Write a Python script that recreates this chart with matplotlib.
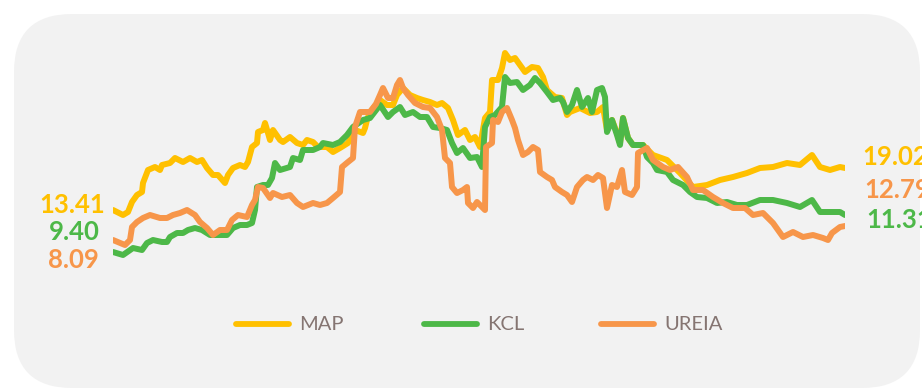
import matplotlib
matplotlib.use('Agg')
import matplotlib.pyplot as plt
from matplotlib.patches import FancyBboxPatch
from matplotlib.lines import Line2D

# dias corridos desde o inicio da serie, e nivel relativo de cada produto (indice)
map_dias = [0, 10, 15, 19, 24, 29, 30, 35, 42, 47,
            49, 57, 62, 70, 77, 84, 89, 94, 100, 105,
            112, 115, 120, 127, 132, 135, 139, 144, 145, 150,
            152, 155, 157, 160, 167, 170, 177, 184, 190, 194,
            200, 205, 214, 220, 227, 235, 242, 250, 252, 254,
            257, 267, 274, 280, 284, 290, 297, 304, 310, 317,
            324, 329, 335, 340, 345, 352, 357, 362, 367, 372,
            377, 379, 385, 389, 392, 397, 402, 407, 412, 419,
            425, 430, 434, 442, 449, 454, 457, 467, 477, 484,
            490, 494, 499, 504, 507, 510, 515, 520, 530, 540,
            554, 567, 580, 594, 607, 620, 634, 647, 660, 674,
            687, 699, 707, 717, 727, 732]
map_nivel = [90, 85, 88, 98, 105, 108, 117, 130, 133, 130,
             135, 137, 142, 138, 142, 138, 140, 132, 125, 125,
             117, 125, 132, 135, 133, 138, 153, 157, 168, 170,
             177, 167, 160, 170, 160, 158, 163, 157, 155, 160,
             158, 153, 153, 148, 152, 157, 170, 167, 172, 180,
             188, 200, 195, 195, 205, 212, 205, 202, 200, 198,
             195, 197, 192, 180, 165, 170, 160, 163, 153, 182,
             188, 220, 220, 232, 247, 240, 242, 235, 228, 233,
             232, 223, 210, 203, 202, 185, 188, 192, 187, 188,
             193, 170, 180, 167, 157, 182, 162, 155, 155, 145,
             140, 127, 113, 115, 120, 123, 127, 132, 133, 137,
             135, 145, 133, 130, 133, 132]

kcl_dias = [0, 10, 20, 29, 34, 40, 49, 54, 57, 64,
            70, 75, 82, 89, 97, 107, 114, 120, 127, 134,
            139, 142, 144, 150, 155, 159, 162, 167, 177, 180,
            187, 190, 200, 207, 210, 220, 227, 234, 240, 250,
            257, 267, 275, 280, 287, 292, 300, 307, 314, 320,
            327, 334, 339, 344, 350, 357, 364, 369, 372, 377,
            382, 389, 392, 397, 404, 410, 417, 422, 427, 434,
            440, 447, 450, 454, 459, 464, 469, 475, 479, 484,
            489, 492, 494, 499, 504, 507, 510, 515, 520, 530,
            534, 540, 544, 554, 560, 570, 577, 584, 594, 604,
            614, 624, 634, 647, 660, 674, 687, 699, 707, 717,
            727, 732]
kcl_nivel = [48, 45, 52, 50, 57, 60, 58, 58, 63, 67,
             67, 70, 72, 70, 65, 65, 65, 72, 75, 75,
             77, 90, 113, 115, 115, 122, 137, 130, 133, 142,
             140, 150, 150, 153, 157, 155, 158, 165, 173, 180,
             182, 195, 183, 188, 193, 185, 188, 183, 183, 173,
             172, 170, 157, 147, 152, 142, 143, 133, 173, 183,
             185, 193, 223, 217, 218, 210, 215, 222, 217, 208,
             200, 202, 198, 188, 195, 210, 193, 202, 188, 210,
             212, 203, 168, 180, 165, 155, 182, 162, 155, 155,
             143, 137, 130, 128, 120, 115, 108, 103, 102, 97,
             98, 95, 95, 100, 100, 97, 93, 100, 88, 88,
             88, 85]

ureia_dias = [0, 12, 17, 19, 24, 30, 37, 47, 54, 60,
              67, 74, 82, 87, 94, 100, 107, 114, 119, 125,
              134, 139, 142, 145, 150, 157, 160, 169, 177, 184,
              190, 200, 207, 214, 220, 227, 229, 235, 240, 242,
              247, 257, 263, 267, 270, 275, 280, 284, 287, 290,
              295, 302, 310, 317, 324, 329, 332, 337, 339, 344,
              350, 354, 355, 360, 364, 369, 372, 373, 379, 380,
              385, 389, 394, 399, 402, 405, 410, 415, 420, 425,
              427, 434, 439, 442, 449, 454, 459, 464, 470, 474,
              480, 485, 490, 494, 499, 504, 509, 512, 519, 524,
              525, 534, 540, 550, 557, 565, 574, 580, 590, 600,
              610, 620, 632, 640, 650, 660, 670, 680, 690, 700,
              710, 715, 719, 727, 732]
ureia_nivel = [60, 55, 60, 73, 78, 82, 85, 82, 82, 85,
               87, 90, 85, 78, 72, 65, 70, 70, 80, 85,
               83, 95, 100, 113, 112, 102, 107, 103, 105, 97,
               93, 97, 95, 97, 102, 108, 133, 138, 142, 173,
               188, 188, 196, 205, 212, 202, 202, 215, 220, 212,
               205, 197, 193, 192, 183, 170, 142, 137, 113, 107,
               110, 113, 97, 92, 98, 93, 90, 153, 157, 180,
               178, 188, 192, 180, 172, 160, 145, 148, 153, 150,
               128, 123, 120, 113, 108, 105, 98, 113, 120, 123,
               120, 125, 122, 92, 115, 113, 130, 108, 105, 113,
               147, 152, 140, 133, 130, 133, 123, 110, 110, 103,
               97, 92, 92, 85, 87, 77, 63, 68, 63, 65,
               62, 60, 67, 73, 74]

series = ['MAP', 'KCL', 'UREIA']
cores = {'MAP': '#FFC000', 'KCL': '#4DB848', 'UREIA': '#F7964A'}
valor_inicial = {'MAP': '13.41', 'KCL': '9.40', 'UREIA': '8.09'}
valor_final = {'MAP': '19.02', 'KCL': '11.31', 'UREIA': '12.79'}

W, H = 922, 390
fig = plt.figure(figsize=(W / 100, H / 100), dpi=100)

# fundo cinza com cantos arredondados, em coordenadas de pixel
bg = fig.add_axes([0, 0, 1, 1])
bg.set_xlim(0, W)
bg.set_ylim(0, H)
bg.axis('off')
bg.add_patch(FancyBboxPatch((14, 2), 906, 374, boxstyle='round,pad=0,rounding_size=58',
                            facecolor='#F2F2F2', edgecolor='none'))

ax = fig.add_axes([113 / W, (H - 280) / H, 732 / W, 240 / H])
ax.set_xlim(0, 732)
ax.set_ylim(20, 260)
ax.axis('off')

lw = 4.3
ax.plot(map_dias, map_nivel, color=cores['MAP'], lw=lw, solid_capstyle='round',
        solid_joinstyle='round', zorder=2)
ax.plot(kcl_dias, kcl_nivel, color=cores['KCL'], lw=lw, solid_capstyle='round',
        solid_joinstyle='round', zorder=3)
ax.plot(ureia_dias, ureia_nivel, color=cores['UREIA'], lw=lw, solid_capstyle='round',
        solid_joinstyle='round', zorder=4)

# rotulos de inicio e fim
fonte = ['Lato', 'DejaVu Sans']
rot_ini_y = {'MAP': 205, 'KCL': 232, 'UREIA': 260}
rot_ini_x = {'MAP': 105, 'KCL': 100, 'UREIA': 99}
rot_fim_y = {'MAP': 157, 'KCL': 220, 'UREIA': 190}
rot_fim_x = {'MAP': 862, 'KCL': 866, 'UREIA': 864}
for s in series:
    bg.text(rot_ini_x[s], H - rot_ini_y[s], valor_inicial[s], color=cores[s], fontsize=18.5,
            fontweight='bold', family=fonte, ha='right', va='center')
    bg.text(rot_fim_x[s], H - rot_fim_y[s], valor_final[s], color=cores[s],
            fontsize=18.5, fontweight='bold', family=fonte, ha='left', va='center')

# legenda
leg_x = {'MAP': 236, 'KCL': 424, 'UREIA': 601}
for s in series:
    bg.add_line(Line2D([leg_x[s], leg_x[s] + 53], [H - 324, H - 324], color=cores[s], lw=4.2,
                       solid_capstyle='round'))
    bg.text(leg_x[s] + 63, H - 325, s, color='#857572', fontsize=14.5, family=fonte,
            ha='left', va='center')

fig.savefig('out.png', dpi=100)
